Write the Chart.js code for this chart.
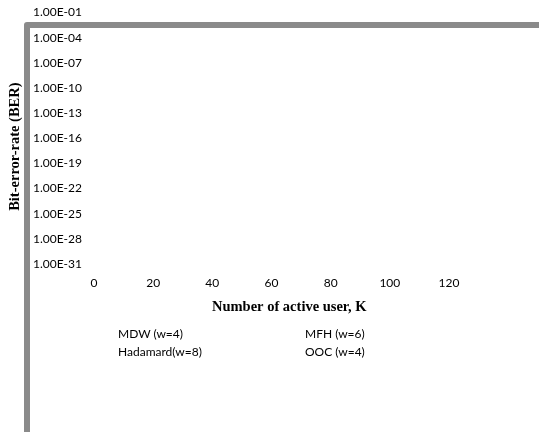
<!DOCTYPE html>
<html>
<head>
<meta charset="utf-8">
<script src="https://cdn.jsdelivr.net/npm/chart.js@4.4.1/dist/chart.umd.min.js"></script>
<style>
  html, body { margin: 0; padding: 0; background: #ffffff; }
  #wrap { position: relative; width: 539px; height: 432px; overflow: hidden; }
  #legend { position: absolute; left: 118px; top: 325px; display: grid;
            grid-template-columns: 187px auto;
            font: 12px Lato, "Open Sans", sans-serif; color: #000; line-height: 18px; }
</style>
</head>
<body>
<div id="wrap">
  <canvas id="c" width="539" height="432"></canvas>
  <div id="legend"></div>
</div>
<script>
// ---- data (no curves are visible in the reference; series are empty) ----
const seriesNames = ['MDW (w=4)', 'MFH (w=6)', 'Hadamard(w=8)', 'OOC (w=4)'];
const mdwValues = [];
const mfhValues = [];
const hadamardValues = [];
const oocValues = [];
const xTickValues = [0, 20, 40, 60, 80, 100, 120];
const yTickValues = [1e-31, 1e-28, 1e-25, 1e-22, 1e-19, 1e-16, 1e-13, 1e-10, 1e-7, 1e-4, 1e-1];
const yTickLabels = ['1.00E-31', '1.00E-28', '1.00E-25', '1.00E-22', '1.00E-19', '1.00E-16',
                     '1.00E-13', '1.00E-10', '1.00E-07', '1.00E-04', '1.00E-01'];
const xTitle = 'Number of active user, K';
const yTitle = 'Bit-error-rate (BER)';

const frame = {
  id: 'frame',
  afterDraw(chart) {
    const ctx = chart.ctx;
    const xs = chart.scales.x, ys = chart.scales.y;
    ctx.save();
    ctx.strokeStyle = '#8a8a8a';
    ctx.lineWidth = 6;
    ctx.lineJoin = 'round';
    ctx.beginPath();
    ctx.moveTo(27, 440);
    ctx.lineTo(27, 25);
    ctx.lineTo(545, 25);
    ctx.stroke();
    ctx.fillStyle = '#000';
    ctx.font = 'bold 14.5px "Liberation Serif", serif';
    ctx.textAlign = 'center';
    ctx.textBaseline = 'middle';
    // x-axis title
    ctx.fillText(xTitle, xs.getPixelForValue(66), 307);
    // y-axis title
    ctx.translate(15, ys.getPixelForValue(1e-17));
    ctx.rotate(-Math.PI / 2);
    ctx.fillText(yTitle, 0, 0);
    ctx.restore();
  }
};

const ds = (label, data) => ({ label, data, borderColor: '#000', pointRadius: 0, showLine: true });

const chart = new Chart(document.getElementById('c'), {
  type: 'scatter',
  data: {
    datasets: [
      ds(seriesNames[0], mdwValues),
      ds(seriesNames[1], mfhValues),
      ds(seriesNames[2], hadamardValues),
      ds(seriesNames[3], oocValues)
    ]
  },
  plugins: [frame],
  options: {
    responsive: false,
    animation: false,
    layout: { padding: { left: 0, top: 12.5, right: 90, bottom: 108 } },
    plugins: { legend: { display: false }, tooltip: { enabled: false } },
    scales: {
      x: {
        type: 'linear', min: 0, max: 120,
        grid: { display: false, drawTicks: false }, border: { display: false },
        afterBuildTicks: s => { s.ticks = xTickValues.map(v => ({ value: v })); },
        afterFit: s => { s.height = 60; s.paddingLeft = 0; s.paddingRight = 0; },
        ticks: { color: '#000', font: { family: 'Lato', size: 12 }, padding: 12, maxRotation: 0 }
      },
      y: {
        type: 'logarithmic', min: 1e-31, max: 1e-1,
        grid: { display: false, drawTicks: false }, border: { display: false },
        afterBuildTicks: s => { s.ticks = yTickValues.map(v => ({ value: v })); },
        afterFit: s => { s.width = 94; s.paddingTop = 0; s.paddingBottom = 0; },
        ticks: {
          color: '#000', font: { family: 'Lato', size: 12 }, padding: 12,
          callback: (v) => { const i = yTickValues.findIndex(t => Math.abs(Math.log10(t) - Math.log10(v)) < 1e-6); return i >= 0 ? yTickLabels[i] : ''; }
        }
      }
    }
  }
});

const leg = document.getElementById('legend');
chart.data.datasets.forEach(d => { const s = document.createElement('div'); s.textContent = d.label; leg.appendChild(s); });
</script>
</body>
</html>
